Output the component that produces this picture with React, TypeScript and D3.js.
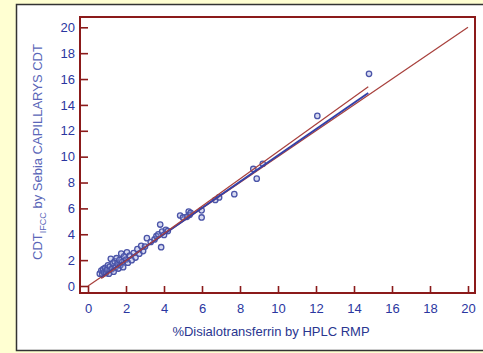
import React, { useEffect, useRef } from 'react';
import * as d3 from 'd3';

// %Disialotransferrin by HPLC RMP (x) vs CDT by Sebia Capillarys (y)
const hplc = [
  0.62, 0.7, 0.75, 0.8, 0.85, 0.9, 0.95, 1.0, 1.05, 1.1, 1.15, 1.2, 1.25, 1.3,
  1.35, 1.4, 1.45, 1.5, 1.55, 1.6, 1.65, 1.7, 1.75, 1.8, 1.85, 1.9, 2.0, 2.05,
  2.1, 2.2, 2.3, 2.4, 2.5, 2.6, 2.7, 2.8, 2.9, 3.0, 3.1, 3.3, 3.5, 3.6, 3.7,
  3.8, 3.85, 3.9, 4.0, 4.1, 4.2, 4.85, 5.0, 5.2, 5.3, 5.35, 5.4, 5.98, 5.98,
  6.7, 6.9, 7.7, 8.7, 8.88, 9.2, 12.07, 14.79,
];
const capillarys = [
  0.95, 1.2, 0.9, 1.3, 1.05, 1.4, 1.0, 1.25, 1.6, 0.95, 1.5, 2.1, 1.3, 1.75,
  1.1, 1.9, 1.45, 2.15, 1.7, 1.35, 2.0, 1.6, 2.5, 1.85, 1.45, 2.3, 2.05, 2.6,
  1.8, 2.35, 2.0, 2.55, 2.2, 2.85, 2.5, 3.1, 2.7, 3.05, 3.7, 3.4, 3.6, 3.85,
  4.0, 4.75, 3.0, 4.2, 3.95, 4.35, 4.25, 5.45, 5.3, 5.35, 5.75, 5.5, 5.65, 5.3,
  5.85, 6.65, 6.85, 7.1, 9.05, 8.3, 9.45, 13.15, 16.4,
];

// fitted lines: [intercept, slope], drawn over fitRange
const regression = [-0.05, 1.015];
const upperLine = [-0.15, 1.055];
const fitRange = [0.7, 14.75];
const identityRange = [0, 20];

const majorTicks = d3.range(0, 21, 2);
const minorTicks = d3.range(0, 20.01, 0.5);

const frameColor = '#8b1a1a';
const labelColor = '#2a36a0';

export default function App() {
  const svgRef = useRef<SVGSVGElement | null>(null);

  useEffect(() => {
    const svg = d3.select(svgRef.current);
    svg.selectAll('*').remove();

    const x = d3.scaleLinear().domain([0, 20]).range([88, 468]);
    const y = d3.scaleLinear().domain([0, 20]).range([286, 27.3]);
    const frame = { left: 80, top: 17, right: 475, bottom: 293 };

    // page panel
    svg.append('rect').attr('width', 483).attr('height', 353).attr('fill', '#ffffd2');
    svg
      .append('rect')
      .attr('x', 16.5)
      .attr('y', 4.5)
      .attr('width', 480)
      .attr('height', 346)
      .attr('fill', '#fff')
      .attr('stroke', '#333')
      .attr('stroke-width', 1.5);

    // bottom axis (inward ticks)
    const gx = svg.append('g').attr('transform', `translate(0, ${frame.bottom})`);
    gx.call(
      d3.axisBottom(x).tickValues(minorTicks).tickSize(-3).tickFormat(() => ''),
    );
    gx.call(
      d3
        .axisBottom(x)
        .tickValues(majorTicks)
        .tickSize(-7)
        .tickPadding(11)
        .tickFormat(d3.format('d')),
    );
    gx.selectAll('.domain').remove();

    // left axis
    const gy = svg.append('g').attr('transform', `translate(${frame.left}, 0)`);
    gy.call(d3.axisLeft(y).tickValues(minorTicks).tickSize(-3).tickFormat(() => ''));
    gy.call(
      d3
        .axisLeft(y)
        .tickValues(majorTicks)
        .tickSize(-8)
        .tickPadding(5)
        .tickFormat(d3.format('d')),
    );
    gy.selectAll('.domain').remove();

    svg.selectAll('.tick line').attr('stroke', frameColor).attr('stroke-width', 1.6);
    svg
      .selectAll('.tick text')
      .attr('fill', labelColor)
      .style('font-family', 'Liberation Sans, Arial, sans-serif')
      .style('font-size', '13px');

    // frame
    svg
      .append('rect')
      .attr('x', frame.left)
      .attr('y', frame.top)
      .attr('width', frame.right - frame.left)
      .attr('height', frame.bottom - frame.top)
      .attr('fill', 'none')
      .attr('stroke', frameColor)
      .attr('stroke-width', 2);

    // points
    const pts = hplc.map((h, i) => [h, capillarys[i]]);
    svg
      .append('g')
      .selectAll('circle')
      .data(pts)
      .join('circle')
      .attr('cx', (d) => x(d[0]))
      .attr('cy', (d) => y(d[1]))
      .attr('r', 2.7)
      .attr('fill', 'rgba(140,150,215,0.35)')
      .attr('stroke', '#4a54a8')
      .attr('stroke-width', 1.3);

    const line = d3
      .line<number[]>()
      .x((d) => x(d[0]))
      .y((d) => y(d[1]));

    const fitPts = (c: number[]) => fitRange.map((v) => [v, c[0] + c[1] * v]);

    svg
      .append('path')
      .attr('d', line(identityRange.map((v) => [v, v])))
      .attr('fill', 'none')
      .attr('stroke', '#a8403c')
      .attr('stroke-width', 1.2);
    svg
      .append('path')
      .attr('d', line(fitPts(regression)))
      .attr('fill', 'none')
      .attr('stroke', '#3340a8')
      .attr('stroke-width', 2);
    svg
      .append('path')
      .attr('d', line(fitPts(upperLine)))
      .attr('fill', 'none')
      .attr('stroke', '#a8403c')
      .attr('stroke-width', 1.2);

    // axis titles
    svg
      .append('text')
      .attr('x', 271)
      .attr('y', 336)
      .attr('text-anchor', 'middle')
      .attr('fill', '#2a3690')
      .style('font-family', 'Liberation Sans, Arial, sans-serif')
      .style('font-size', '13px')
      .text('%Disialotransferrin by HPLC RMP');

    const yt = svg
      .append('text')
      .attr('transform', 'translate(42, 152) rotate(-90)')
      .attr('text-anchor', 'middle')
      .attr('fill', '#5a66b8')
      .style('font-family', 'Liberation Sans, Arial, sans-serif')
      .style('font-size', '13px');
    yt.append('tspan').text('CDT');
    yt.append('tspan').attr('dy', 4).style('font-size', '9px').text('IFCC');
    yt.append('tspan').attr('dy', -4).text(' by Sebia CAPILLARYS CDT');
  }, []);

  return (
    <div style={{ position: 'fixed', left: 0, top: 0 }}>
      <svg ref={svgRef} width={483} height={353} style={{ display: 'block' }} />
    </div>
  );
}
